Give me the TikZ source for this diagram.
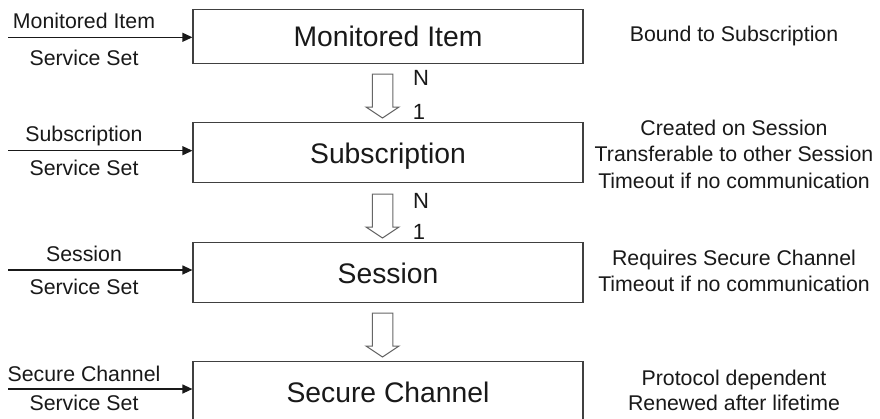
\documentclass[tikz,border=0pt]{standalone}
\usepackage{fontspec}
\setmainfont{Liberation Sans}
\usetikzlibrary{arrows.meta}
\begin{document}
\begin{tikzpicture}[x=1pt,y=-1pt,
  box/.style={draw=black!75, line width=1.2pt, minimum width=390pt, inner sep=0pt,
    font=\fontsize{28.3}{34}\selectfont, text=black!90, text height=20.6pt, text depth=0pt},
  lbl/.style={anchor=base, inner sep=0pt, font=\fontsize{21.3}{25}\selectfont, text=black!90},
  card/.style={anchor=base, inner sep=0pt, font=\fontsize{22}{26}\selectfont, text=black!90},
  hollowline/.style={draw=black!60, line width=1pt, line join=miter},
  downarrow/.pic={\draw[hollowline] (-10.25,0) -- (10.25,0) -- (10.25,33) -- (16.5,33)
     -- (0,44) -- (-16.5,33) -- (-10.25,33) -- cycle;},
  inarrow/.style={draw=black!90, line width=1.2pt, -{Triangle[length=10pt,width=9pt]}}
]
\path[use as bounding box, fill=white] (0,0) rectangle (880,418);
\clip (0,0) rectangle (880,418);

% boxes
\node[box, minimum height=54pt] (mi) at (388,36.3) {Monitored Item};
\node[box, minimum height=60pt] (sub) at (388,152.7) {Subscription};
\node[box, minimum height=60pt] (ses) at (388,272.85) {Session};
\node[box, minimum height=60pt] (sc) at (388,391.7) {Secure Channel};

% hollow down arrows
\pic (d1) at (382.5,74) {downarrow};
\pic (d2) at (382.5,194) {downarrow};
\pic (d3) at (382.5,313) {downarrow};

% cardinalities
\node[card] (n1) at (421,85) {N};
\node[card] (o1) at (419,119) {1};
\node[card] (n2) at (421,208) {N};
\node[card] (o2) at (419,239) {1};

% input arrows
\coordinate (i1) at (8,37.3);
\coordinate (i2) at (8,150.7);
\coordinate (i3) at (8,270);
\coordinate (i4) at (8,389);
\draw[inarrow] (i1) -- (i1 -| mi.west);
\draw[inarrow] (i2) -- (i2 -| sub.west);
\draw[inarrow] (i3) -- (i3 -| ses.west);
\draw[inarrow] (i4) -- (i4 -| sc.west);

% left labels
\node[lbl] (l1a) at (84,28.3) {Monitored Item};
\node[lbl] (l1b) at (84,65) {Service Set};
\node[lbl] (l2a) at (84,141.7) {Subscription};
\node[lbl] (l2b) at (84,175) {Service Set};
\node[lbl] (l3a) at (84,261.7) {Session};
\node[lbl] (l3b) at (84,294.3) {Service Set};
\node[lbl] (l4a) at (84,381) {Secure Channel};
\node[lbl] (l4b) at (84,410) {Service Set};

% right notes
\node[lbl] (r1) at (734,41.7) {Bound to Subscription};
\node[lbl] (r2a) at (734,135) {Created on Session};
\node[lbl] (r2b) at (734,161.7) {Transferable to other Session};
\node[lbl] (r2c) at (734,188.3) {Timeout if no communication};
\node[lbl] (r3a) at (734,265) {Requires Secure Channel};
\node[lbl] (r3b) at (734,291.7) {Timeout if no communication};
\node[lbl] (r4a) at (734,385) {Protocol dependent};
\node[lbl] (r4b) at (734,410) {Renewed after lifetime};
\end{tikzpicture}
\end{document}
